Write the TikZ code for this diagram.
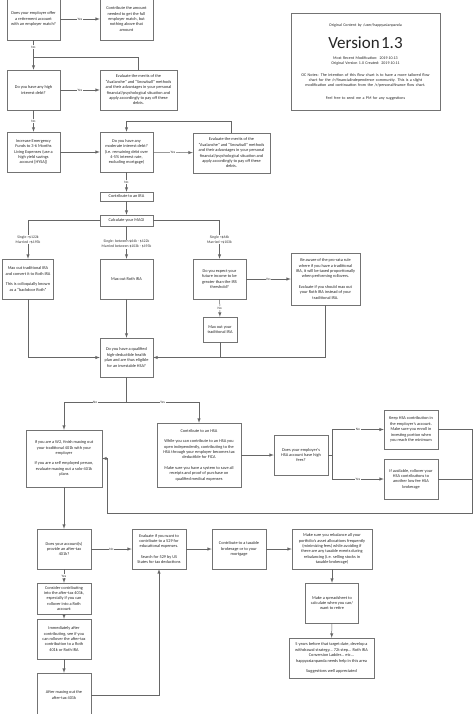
\documentclass[tikz,border=0pt]{standalone}
\usepackage{fontspec}
\setmainfont{Carlito}
\usetikzlibrary{positioning}
\definecolor{boxgray}{gray}{0.45}
\definecolor{linegray}{gray}{0.40}
\begin{document}
\begin{tikzpicture}[x=1pt,y=-1pt,>=latex,
        box/.style={draw=boxgray,fill=white,align=center,inner sep=1pt,line width=0.5pt,text=black!85,font=\fontsize{4.3}{5.4}\selectfont},
        ans/.style={fill=white,inner sep=0.6pt,text=black!80,font=\fontsize{3.5}{4}\selectfont},
        cond/.style={fill=white,inner sep=0.6pt,align=center,text=black!80,font=\fontsize{3.8}{4.6}\selectfont},
        every path/.style={draw=linegray,line width=0.5pt}]
    \useasboundingbox[fill=white,draw=none] (0,0) rectangle (474,714);
    % notes box
    \node[box,minimum width=149,minimum height=97,text width=145] (info) at (365.5,61.5) {{\fontsize{4}{5}\selectfont Original Content by /user/happyasianpanda\par}\vspace{3pt}
        {\fontsize{17}{19}\selectfont Version 1.3\par}\vspace{6pt}
        {\fontsize{4}{5}\selectfont Most Recent Modification: 2019.10.13\\Original Version 1.0 Created: 2019.10.11\par}\vspace{7pt}
        {\fontsize{4.1}{5}\selectfont OC Notes: The intention of this flow chart is to have a more tailored flow\\chart for the /r/financialindependence community. This is a slight\\modification and continuation from the /r/personalfinance flow chart.\par}\vspace{8pt}
        {\fontsize{4}{5}\selectfont Feel free to send me a PM for any suggestions\par}};
    % debt section
    \node[box,minimum width=53,minimum height=42] (emp) at (33.5,19) {Does your employer offer\\a retirement account\\with an employer match?};
    \node[box,minimum width=53,minimum height=42] (match) at (126.5,19) {Contribute the amount\\needed to get the full\\employer match, but\\nothing above that\\amount};
    \node[box,minimum width=53,minimum height=40] (hid) at (33.5,90) {Do you have any high\\interest debt?};
    \node[box,minimum width=77,minimum height=40] (aval1) at (138.5,90) {Evaluate the merits of the\\``Avalanche'' and ``Snowball'' methods\\and their advantages in your personal\\financial/psychological situation and\\apply accordingly to pay off these\\debts.};
    \node[box,minimum width=53,minimum height=40] (emerg) at (33.5,152) {Increase Emergency\\Funds to 3-6 Months\\Living Expenses (use a\\high yield savings\\account [HYSA])};
    \node[box,minimum width=53,minimum height=40] (mod) at (126.5,152) {Do you have any\\moderate interest debt?\\(i.e. remaining debt over\\4-5\% interest rate,\\excluding mortgage)};
    \node[box,minimum width=77,minimum height=40] (aval2) at (231.5,153) {Evaluate the merits of the\\``Avalanche'' and ``Snowball'' methods\\and their advantages in your personal\\financial/psychological situation and\\apply accordingly to pay off these\\debts.};
    % IRA section
    \node[box,minimum width=53,minimum height=9] (ira) at (126.5,196.5) {Contribute to an IRA};
    \node[box,minimum width=53,minimum height=11] (magi) at (126.5,220.5) {Calculate your MAGI};
    \node[box,minimum width=51,minimum height=40] (trad) at (28,279) {Max out traditional IRA\\and convert it to Roth IRA\\[5pt]This is colloquially known\\as a ``backdoor Roth''};
    \node[box,minimum width=53,minimum height=40] (roth) at (126.5,279) {Max out Roth IRA};
    \node[box,minimum width=53,minimum height=40] (expect) at (219.5,279) {Do you expect your\\future income to be\\greater than the IRS\\threshold?};
    \node[box,minimum width=69,minimum height=52] (prorata) at (325.5,279) {Be aware of the pro-rata rule\\where if you have a traditional\\IRA, it will be taxed proportionally\\when performing rollovers.\\[5pt]Evaluate if you should max out\\your Roth IRA instead of your\\traditional IRA.};
    \node[box,minimum width=34,minimum height=25] (maxtrad) at (220,329.5) {Max out your\\traditional IRA};
    % HSA section
    \node[box,minimum width=53,minimum height=39] (hdhp) at (126.5,357.5) {Do you have a qualified\\high-deductible health\\plan and are thus eligible\\for an investable HSA?};
    \node[box,minimum width=76,minimum height=57] (w2) at (64,458.5) {If you are a W2, finish maxing out\\your traditional 401k with your\\employer\\[5pt]If you are a self employed person,\\evaluate maxing out a solo-401k\\plans};
    \node[box,minimum width=84,minimum height=64] (hsa) at (199,455) {Contribute to an HSA\\[5pt]While you can contribute to an HSA you\\open independently, contributing to the\\HSA through your employer becomes tax\\deductible for FICA\\[5pt]Make sure you have a system to save all\\receipts and proof of purchase on\\qualified medical expenses};
    \node[box,minimum width=54,minimum height=40] (fees) at (301,455) {Does your employer's\\HSA account have high\\fees?};
    \node[box,minimum width=54,minimum height=39] (keep) at (411,429.5) {Keep HSA contribution in\\the employer's account.\\Make sure you enroll in\\investing portion when\\you reach the minimum};
    \node[box,minimum width=54,minimum height=40] (roll) at (411,479) {If available, rollover your\\HSA contributions to\\another low fee HSA\\brokerage};
    % after-tax section
    \node[box,minimum width=54,minimum height=40] (aftertax) at (64,549) {Does your account(s)\\provide an after-tax\\401k?};
    \node[box,minimum width=54,minimum height=31] (consider) at (64,598.5) {Consider contributing\\into the after-tax 401k,\\especially if you can\\rollover into a Roth\\account};
    \node[box,minimum width=54,minimum height=40] (immed) at (64,639) {Immediately after\\contributing, see if you\\can rollover the after-tax\\contribution to a Roth\\401k or Roth IRA};
    \node[box,minimum width=54,minimum height=44] (aftermax) at (64,695) {After maxing out the\\after-tax 401k};
    \node[box,minimum width=54,minimum height=40] (edu) at (159,549) {Evaluate if you want to\\contribute to a 529 for\\educational expenses.\\[5pt]Search for 529 by US\\States for tax deductions};
    \node[box,minimum width=54,minimum height=40] (taxable) at (239,549) {Contribute to a taxable\\brokerage or to your\\mortgage};
    \node[box,minimum width=80,minimum height=40] (rebal) at (332,549) {Make sure you rebalance all your\\portfolio's asset allocations frequently\\(minimizing fees) while avoiding if\\there are any taxable events during\\rebalancing (i.e. selling stocks in\\taxable brokerage)};
    \node[box,minimum width=53,minimum height=40] (sheet) at (332,603) {Make a spreadsheet to\\calculate when you can/\\want to retire};
    \node[box,minimum width=85,minimum height=40] (withdraw) at (331.5,658) {5 years before that target date, develop a\\withdrawal strategy... 72t step... Roth IRA\\Conversion Ladder... etc...\\happyasianpanda needs help in this area\\[5pt]Suggestions well appreciated};
    % junctions
    \coordinate (j1) at (33.5,57);
    \coordinate (hsplit) at (126.5,402);
    \coordinate (fsplit) at (332,455);
    \coordinate (c1) at (472,513);
    \coordinate (c2) at (107,513);
    % connectors
    \draw[->] (emp) -- node[ans] {Yes} (match);
    \draw[->] (emp) -- node[ans,pos=0.23] {No} (hid);
    \draw (aval1.north) |- (j1);
    \draw[->] (hid) -- node[ans] {Yes} (aval1);
    \draw[->] (hid) -- node[ans] {No} (emerg);
    \draw[->] (emerg) -- (mod);
    \draw[->] (mod) -- node[ans] {Yes} (aval2);
    \draw[->] (aval2.north) -- ++(0,-11) -| (mod.north);
    \draw[->] (mod) -- node[ans] {No} (ira);
    \draw[->] (ira) -- (magi);
    \draw[->] (magi.west) -| node[cond,pos=0.75] {Single >\$122k\\Married >\$193k} (trad.north);
    \draw[->] (magi) -- node[cond,pos=0.55] {Single: between \$64k - \$122k\\Married between \$103k - \$193k} (roth);
    \draw[->] (magi.east) -| node[cond,pos=0.75] {Single <\$64k\\Married <\$103k} (expect.north);
    \draw[->] (expect) -- node[ans] {Yes} (prorata);
    \draw[->] (expect) -- node[ans] {No} (maxtrad);
    \draw[->] (trad.south) |- (hdhp.west);
    \draw[->] (roth) -- (hdhp);
    \draw[->] (prorata.south) |- (hdhp.east);
    \draw (maxtrad.south) -- (maxtrad.south |- hdhp.east);
    \draw (hdhp.south) -- (hsplit);
    \draw[->] (hsplit) -| node[ans,pos=0.25] {No} (w2.north);
    \draw[->] (hsplit) -| node[ans,pos=0.25] {Yes} (hsa.north);
    \draw[->] (hsa) -- (fees);
    \draw (fees.east) -- (fsplit);
    \draw[->] (fsplit) |- node[ans,pos=0.75] {No} (keep.west);
    \draw[->] (fsplit) |- node[ans,pos=0.75] {Yes} (roll.west);
    \draw[->] (keep.east) -| (c1) -- (c2) |- (w2.east);
    \draw (roll.east) -- (roll.east -| c1);
    \draw[->] (w2) -- (aftertax);
    \draw[->] (aftertax) -- node[ans] {No} (edu);
    \draw[->] (aftertax) -- node[ans] {Yes} (consider);
    \draw[->] (consider) -- (immed);
    \draw[->] (immed) -- (aftermax);
    \draw[->] (aftermax.east) -| (edu.south);
    \draw[->] (edu) -- (taxable);
    \draw[->] (taxable) -- (rebal);
    \draw[->] (rebal) -- (sheet);
    \draw[->] (sheet) -- (withdraw);
\end{tikzpicture}
\end{document}
